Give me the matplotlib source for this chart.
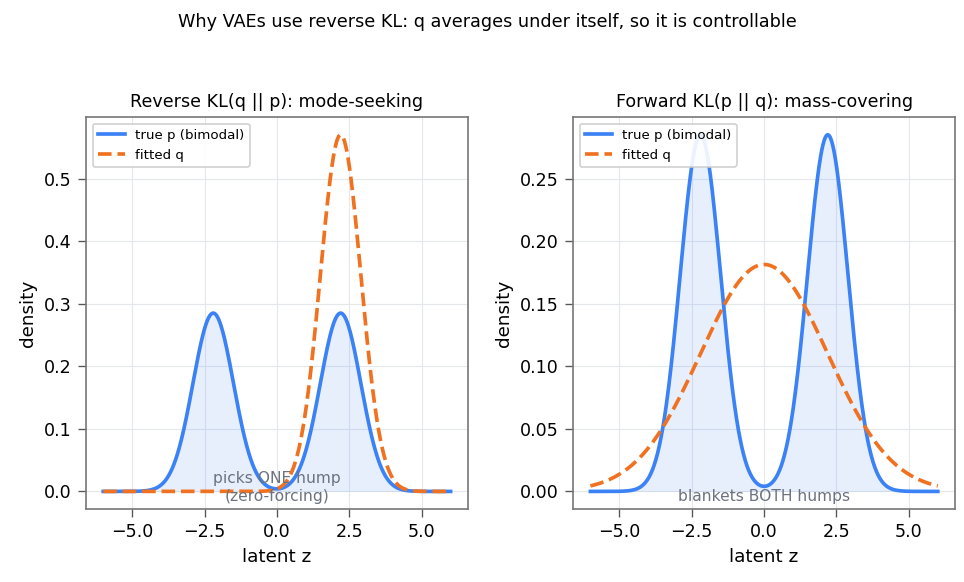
import numpy as np
import matplotlib
matplotlib.use("Agg")
import matplotlib.pyplot as plt

# parameters
p_means = [-2.2, 2.2]
p_weights = [0.5, 0.5]
p_sigma = 0.7
q_rev_mean, q_rev_sigma = 2.2, 0.7      # reverse KL fit (one hump)
q_fwd_mean, q_fwd_sigma = 0.0, 2.2      # forward KL fit (covers both)

titles = ["Reverse KL(q || p): mode-seeking", "Forward KL(p || q): mass-covering"]
notes = ["picks ONE hump\n(zero-forcing)", "blankets BOTH humps"]
note_y = [0.006, -0.004]

BLUE = "#3b82f6"
ORANGE = "#f07220"
GRAY = "#6b7280"


def normal(z, mu, s):
    return np.exp(-0.5 * ((z - mu) / s) ** 2) / (s * np.sqrt(2 * np.pi))


z = np.linspace(-6, 6, 600)
p = sum(w * normal(z, m, p_sigma) for w, m in zip(p_weights, p_means))
qs = [normal(z, q_rev_mean, q_rev_sigma), normal(z, q_fwd_mean, q_fwd_sigma)]

fig, axes = plt.subplots(1, 2, figsize=(8.04, 4.85), dpi=120)
fig.subplots_adjust(left=0.089, right=0.99, bottom=0.125, top=0.799, wspace=0.275)
fig.suptitle("Why VAEs use reverse KL: q averages under itself, so it is controllable",
             fontsize=10.6, y=0.978, x=0.505)

for ax, q, title, note, ny in zip(axes, qs, titles, notes, note_y):
    ax.fill_between(z, p, color=BLUE, alpha=0.12, lw=0)
    ax.plot(z, p, color=BLUE, lw=2.2, label="true p (bimodal)")
    ax.plot(z, q, color=ORANGE, lw=2.2, ls="--", label="fitted q")
    ax.text(0, ny, note, ha="center", va="center", fontsize=9.3, color=GRAY)
    ax.set_title(title, fontsize=10.5)
    ax.set_xlabel("latent z", fontsize=11)
    ax.set_ylabel("density", fontsize=11)
    ax.set_xticks([-5, -2.5, 0, 2.5, 5])
    ax.set_xticklabels(["\u22125.0", "\u22122.5", "0.0", "2.5", "5.0"])
    ax.tick_params(labelsize=10.5, length=5, color="#555555")
    ax.grid(True, color="#e5e7eb", lw=0.7)
    ax.set_axisbelow(True)
    for sp in ax.spines.values():
        sp.set_color("#777777")
        sp.set_linewidth(1.0)
    ax.legend(loc="upper left", fontsize=8, framealpha=0.9, edgecolor="#cccccc")

fig.savefig("out.png", dpi=120)
